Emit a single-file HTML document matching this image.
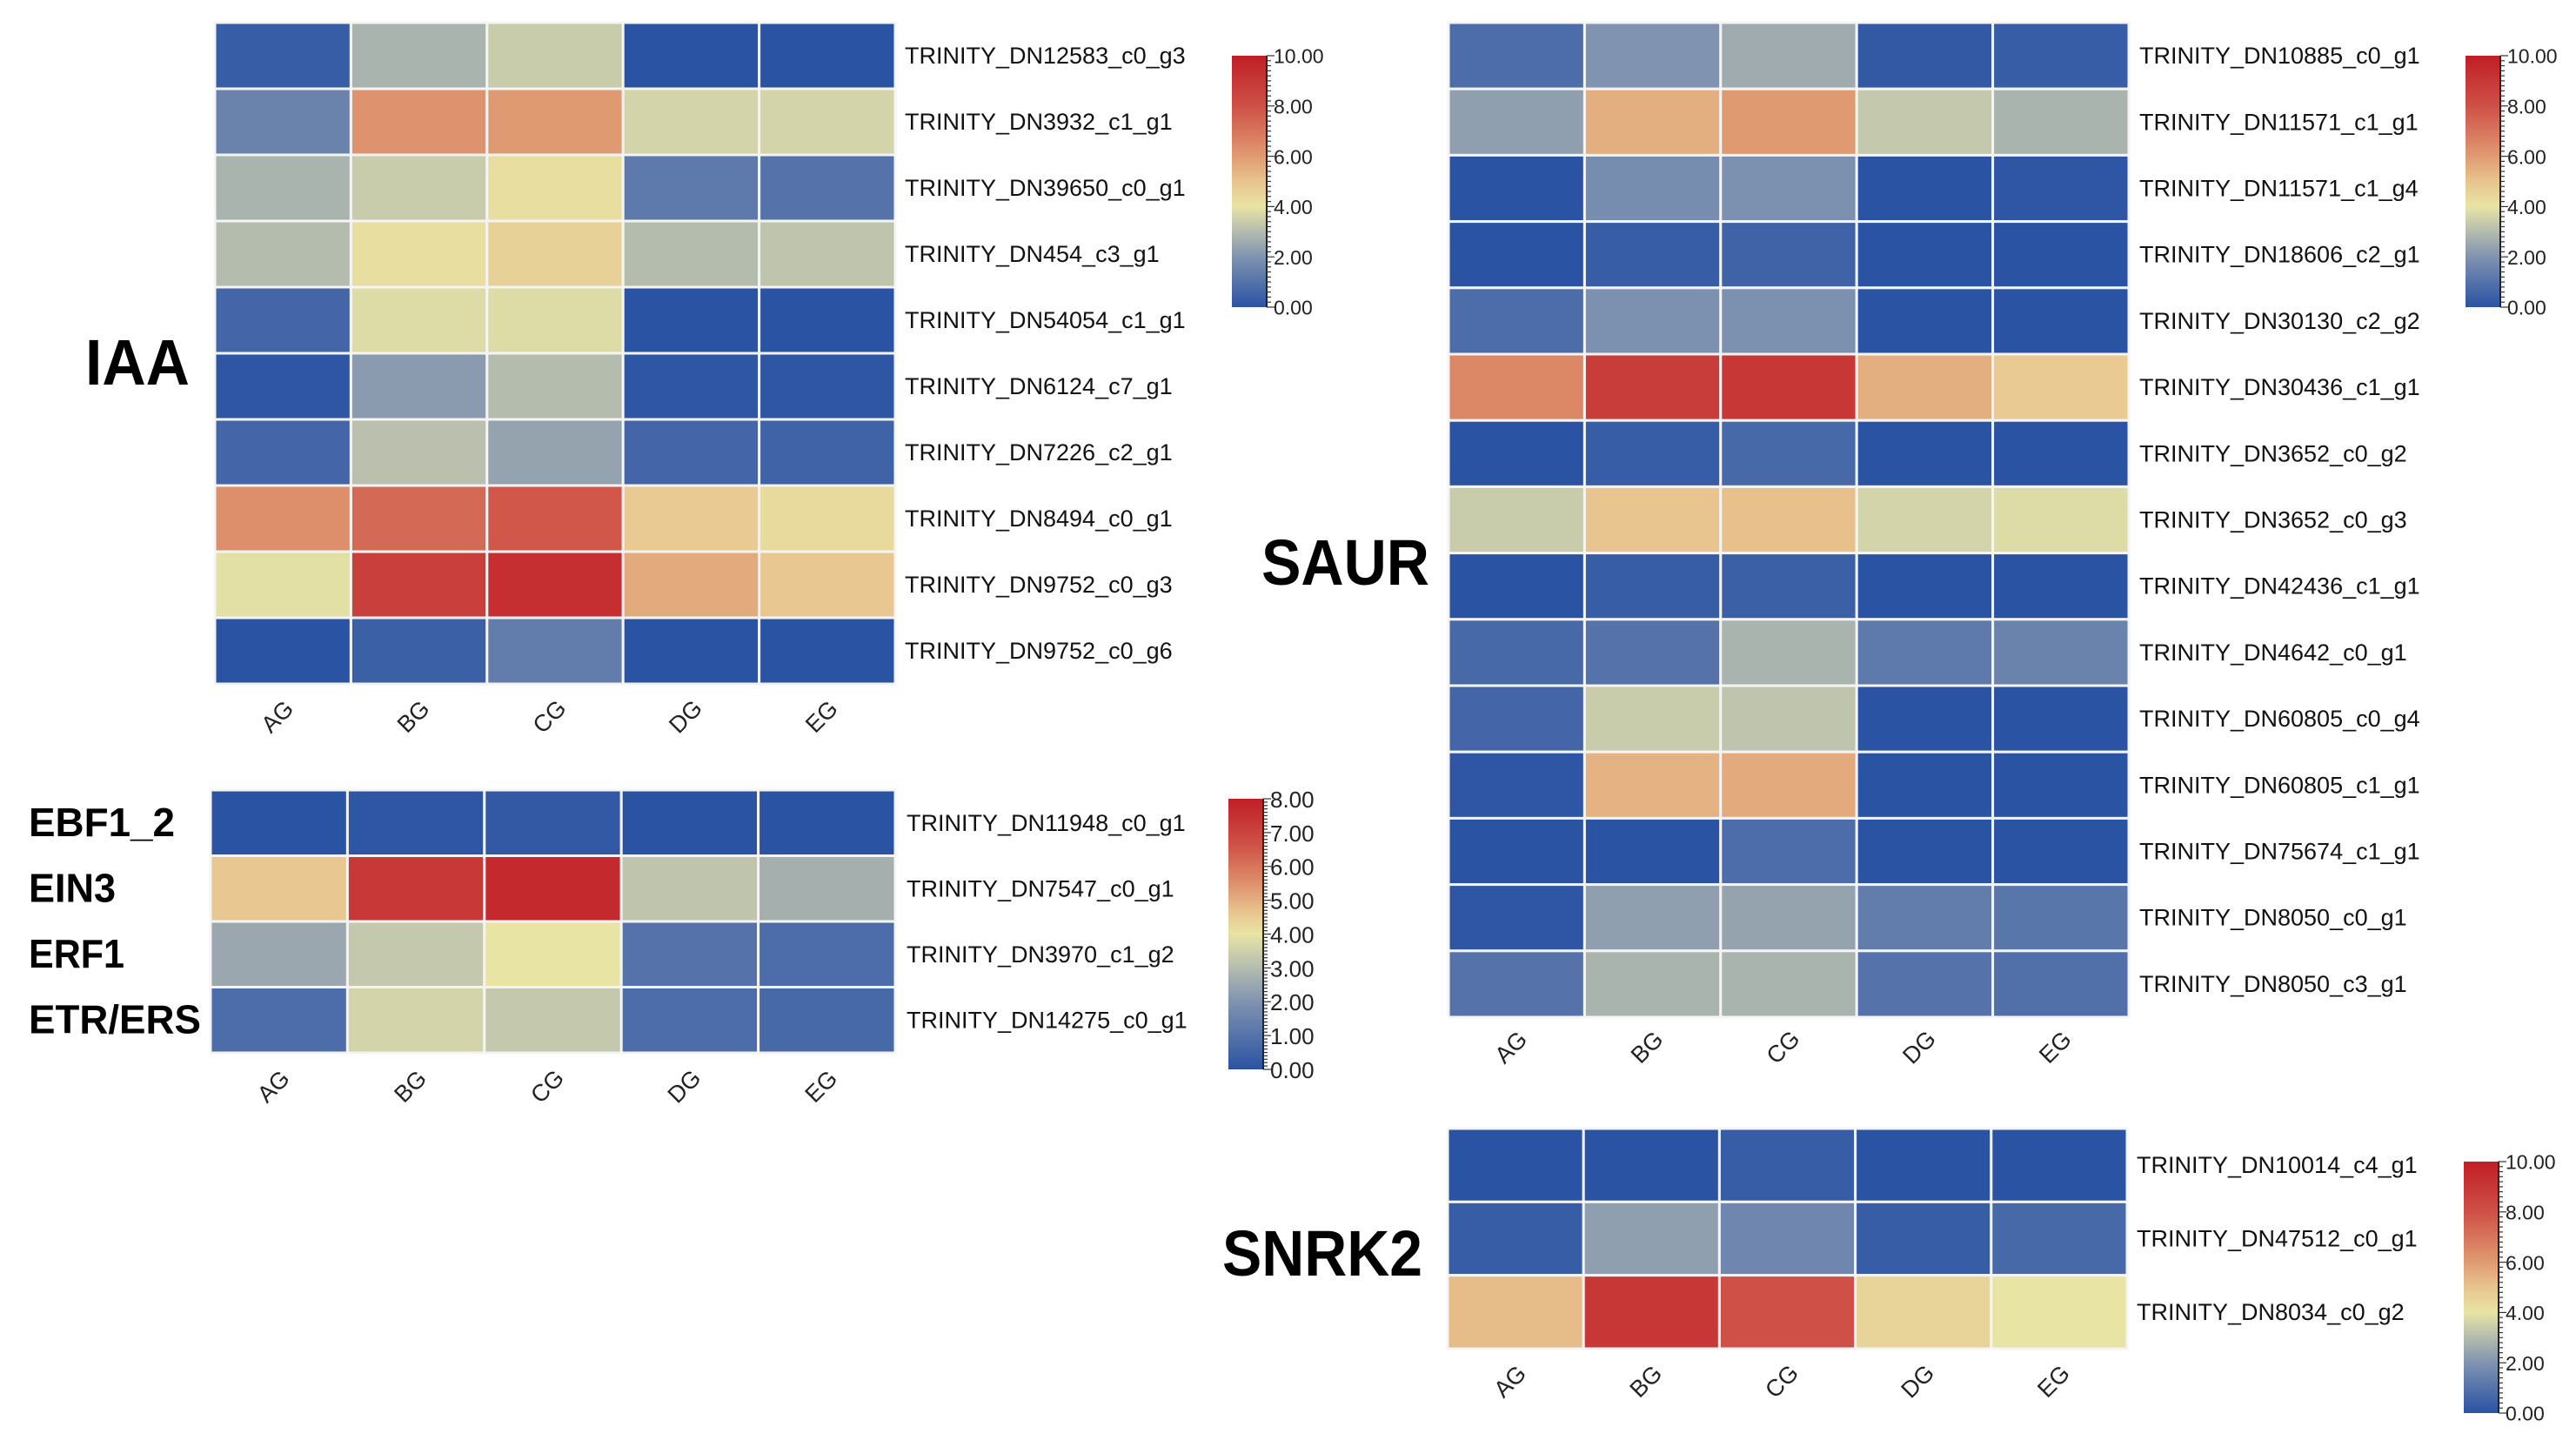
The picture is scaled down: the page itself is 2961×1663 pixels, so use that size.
<!DOCTYPE html>
<html><head><meta charset="utf-8"><style>
html,body{margin:0;padding:0;background:#fff;}
svg{display:block;font-family:"Liberation Sans",sans-serif;}
</style></head><body>
<svg id="chart" width="2961" height="1663" viewBox="0 0 2961 1663" xmlns="http://www.w3.org/2000/svg"></svg>
<script>
const cols = ["AG","BG","CG","DG","EG"];
const iaaGenes = ["TRINITY_DN12583_c0_g3","TRINITY_DN3932_c1_g1","TRINITY_DN39650_c0_g1","TRINITY_DN454_c3_g1","TRINITY_DN54054_c1_g1","TRINITY_DN6124_c7_g1","TRINITY_DN7226_c2_g1","TRINITY_DN8494_c0_g1","TRINITY_DN9752_c0_g3","TRINITY_DN9752_c0_g6"];
const iaaValues = [
 [0.3,2.8,3.4,0,0],[1.5,6.2,6.0,3.6,3.6],[2.8,3.4,4.2,1.2,1.0],[3.0,4.2,4.6,3.0,3.2],[0.6,3.8,3.8,0,0],
 [0.1,2.2,3.0,0.1,0.1],[0.6,3.1,2.4,0.6,0.5],[6.3,7.3,7.8,4.8,4.3],[3.9,8.7,9.3,5.6,4.9],[0,0.4,1.3,0,0]];
const ethGenes = ["TRINITY_DN11948_c0_g1","TRINITY_DN7547_c0_g1","TRINITY_DN3970_c1_g2","TRINITY_DN14275_c0_g1"];
const ethNames = ["EBF1_2","EIN3","ERF1","ETR/ERS"];
const ethValues = [[0,0.1,0.2,0,0],[4.6,7.3,7.7,3.2,2.7],[2.5,3.3,4.0,1.0,0.8],[0.8,3.6,3.3,0.8,0.7]];
const saurGenes = ["TRINITY_DN10885_c0_g1","TRINITY_DN11571_c1_g1","TRINITY_DN11571_c1_g4","TRINITY_DN18606_c2_g1","TRINITY_DN30130_c2_g2","TRINITY_DN30436_c1_g1","TRINITY_DN3652_c0_g2","TRINITY_DN3652_c0_g3","TRINITY_DN42436_c1_g1","TRINITY_DN4642_c0_g1","TRINITY_DN60805_c0_g4","TRINITY_DN60805_c1_g1","TRINITY_DN75674_c1_g1","TRINITY_DN8050_c0_g1","TRINITY_DN8050_c3_g1"];
const saurValues = [
 [0.8,2.0,2.6,0.2,0.3],[2.3,5.5,6.0,3.3,2.8],[0,1.8,1.9,0,0.1],[0,0.3,0.5,0,0],[0.8,1.9,1.9,0,0],
 [6.5,8.8,9.0,5.5,4.8],[0,0.3,0.7,0,0],[3.4,5.0,5.1,3.6,3.8],[0,0.3,0.4,0,0],[0.7,1.0,2.8,1.2,1.5],
 [0.6,3.4,3.2,0,0],[0.1,5.4,5.6,0,0],[0,0,0.8,0,0],[0.1,2.3,2.4,1.3,1.1],[1.0,2.8,2.8,1.0,0.9]];
const snrkGenes = ["TRINITY_DN10014_c4_g1","TRINITY_DN47512_c0_g1","TRINITY_DN8034_c0_g2"];
const snrkValues = [[0,0,0.3,0,0],[0.3,2.3,1.6,0.3,0.7],[5.2,9.0,8.0,4.5,4.0]];
const ticks10 = ["0.00","2.00","4.00","6.00","8.00","10.00"];
const ticks8 = ["0.00","1.00","2.00","3.00","4.00","5.00","6.00","7.00","8.00"];

const NS="http://www.w3.org/2000/svg";
const svg=document.getElementById('chart');
const stops=[[0,[42,83,164]],[0.2,[128,147,176]],[0.33,[196,200,172]],[0.4,[232,228,164]],[0.5,[232,196,142]],[0.6,[224,154,114]],[0.8,[206,80,70]],[1,[192,30,38]]];
function color(t){t=Math.max(0,Math.min(1,t));for(let i=1;i<stops.length;i++){if(t<=stops[i][0]){const a=stops[i-1],b=stops[i];const f=(t-a[0])/(b[0]-a[0]);const c=a[1].map((v,k)=>Math.round(v+(b[1][k]-v)*f));return `rgb(${c[0]},${c[1]},${c[2]})`;}}return 'rgb(192,30,38)';}
function norm10(v){return v/10;}
function norm8(v){return v<=4? v/10 : 0.4+(v-4)/4*0.6;}
function mk(tag,attrs,parent){const e=document.createElementNS(NS,tag);for(const k in attrs)e.setAttribute(k,attrs[k]);(parent||svg).appendChild(e);return e;}

function heatmap(name,genes,values,nf,x0,y0,w,h,labelX,xlabY){
  const g=mk('g',{});
  
  
  const cw=w/cols.length, rh=h/genes.length;
  values.forEach((row,r)=>row.forEach((v,c)=>{
    const rc=mk('rect',{x:x0+c*cw,y:y0+r*rh,width:cw,height:rh,fill:color(nf(v)),stroke:'#f4f4f4','stroke-width':3},g);
    
    
  }));
  genes.forEach((gn,r)=>{
    const t=mk('text',{x:labelX,y:y0+(r+0.5)*rh+9,'font-size':27,fill:'#111'},g);
    t.textContent=gn;
    
    
  });
  cols.forEach((cn,c)=>{
    const cx=x0+(c+0.5)*cw;
    const t=mk('text',{x:cx,y:xlabY,'font-size':27,fill:'#222','text-anchor':'middle',transform:`rotate(-45 ${cx} ${xlabY})`},g);
    t.textContent=cn;
    
    
  });
}
let gid=0;
function colorbar(x,y,w,h,labels,fs,nf,vmax){
  const g=mk('g',{});
  
  
  const id='grad'+(gid++);
  const lg=mk('linearGradient',{id:id,x1:0,y1:1,x2:0,y2:0},mk('defs',{},g));
  for(let i=0;i<=40;i++)mk('stop',{offset:i/40,'stop-color':color(nf(i/40*vmax))},lg);
  mk('rect',{x:x,y:y,width:w,height:h,fill:`url(#${id})`},g);
  mk('line',{x1:x+w,y1:y,x2:x+w,y2:y+h,stroke:'#222','stroke-width':2},g);
  const n=labels.length-1;
  for(let i=0;i<=n*10;i++){const yy=y+h-h*i/(n*10);mk('line',{x1:x+w,y1:yy,x2:x+w+(i%10===0?9:5),y2:yy,stroke:'#333','stroke-width':1.2},g);}
  labels.forEach((l,i)=>{const t=mk('text',{x:x+w+8,y:y+h-h*i/n+fs*0.38,'font-size':fs,fill:'#222'},g);t.textContent=l;});
}
function title(txt,x,y,fs,len){
  const a={x:x,y:y,'font-size':fs,'font-weight':'bold',fill:'#000'};
  if(len){a.textLength=len;a.lengthAdjust='spacingAndGlyphs';}
  const t=mk('text',a);
  t.textContent=txt;
  
  
}

heatmap('iaa',iaaGenes,iaaValues,norm10,247,26,782,760,1040,830);
colorbar(1416,64,40,289,ticks10,23,norm10,10);
title('IAA',98,442,74,120);

heatmap('ethylene',ethGenes,ethValues,norm8,242,908,787,302,1042,1255);
colorbar(1412,918,40,311,ticks8,26,norm8,8);
const ethLen=[168,100,110,198];
ethNames.forEach((n,i)=>title(n,33,908+(i+0.5)*75.5+15,46,ethLen[i]));

heatmap('saur',saurGenes,saurValues,norm10,1665,26,782,1143,2459,1210);
colorbar(2834,64,40,289,ticks10,23,norm10,10);
title('SAUR',1450,672,74,193);

heatmap('snrk2',snrkGenes,snrkValues,norm10,1664,1297,781,253,2456,1594);
colorbar(2832,1335,40,289,ticks10,23,norm10,10);
title('SNRK2',1405,1466,74,230);
</script>
</body></html>
